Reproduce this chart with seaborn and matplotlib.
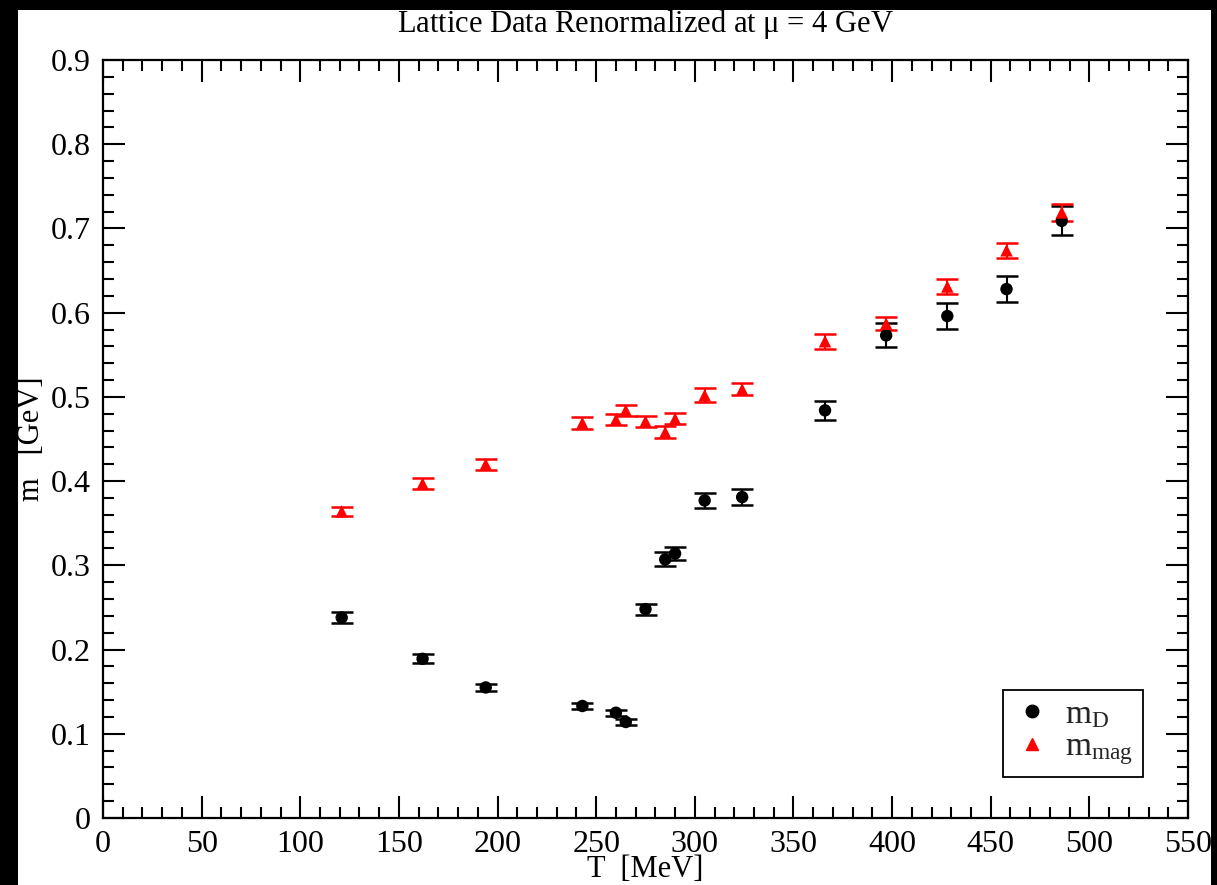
import matplotlib
matplotlib.use("Agg")
import matplotlib.pyplot as plt
from matplotlib.patches import Rectangle
from matplotlib.lines import Line2D
from matplotlib.ticker import MultipleLocator
import numpy as np
import pandas as pd
import seaborn as sns

# Temperatures [MeV]
temperature = [121, 162, 194, 243, 260, 265, 275, 285, 290, 305, 324, 366, 397, 428, 458, 486]

# Debye (electric) screening mass [GeV] and its uncertainty
m_debye = [0.238, 0.189, 0.155, 0.133, 0.125, 0.114, 0.248, 0.307, 0.314, 0.377, 0.381,
           0.484, 0.573, 0.596, 0.628, 0.709]
m_debye_err = [0.006, 0.0055, 0.0044, 0.0036, 0.0036, 0.0036, 0.0065, 0.0083, 0.0075, 0.0087,
               0.0095, 0.0115, 0.0142, 0.0154, 0.0158, 0.0172]

# Magnetic screening mass [GeV] and its uncertainty
m_magnetic = [0.364, 0.397, 0.420, 0.469, 0.473, 0.484, 0.471, 0.458, 0.474, 0.502, 0.509,
              0.566, 0.587, 0.631, 0.674, 0.719]
m_magnetic_err = [0.0057, 0.0063, 0.0063, 0.0067, 0.0061, 0.0069, 0.0065, 0.0071, 0.0067, 0.0081,
                  0.0073, 0.0089, 0.0077, 0.0089, 0.0093, 0.0105]

series_names = ["m_D", "m_mag"]
series_labels = [r"m$_{\mathrm{D}}$", r"m$_{\mathrm{mag}}$"]
series_colors = ["black", "red"]
series_markers = ["o", "^"]

df = pd.DataFrame({
    "T": temperature * 2,
    "m": m_debye + m_magnetic,
    "err": m_debye_err + m_magnetic_err,
    "series": [series_names[0]] * len(temperature) + [series_names[1]] * len(temperature),
})

sns.set_theme(style="ticks")
plt.rcParams["font.family"] = ["Liberation Serif", "DejaVu Serif"]
plt.rcParams["mathtext.fontset"] = "custom"
plt.rcParams["mathtext.rm"] = "Liberation Serif"
plt.rcParams["mathtext.it"] = "Liberation Serif:italic"

W, H = 1217, 885
fig = plt.figure(figsize=(W / 100, H / 100), dpi=100, facecolor="black")
fig.patches.append(Rectangle((18 / W, 0), (1211 - 18) / W, (H - 10) / H,
                             transform=fig.transFigure, facecolor="white",
                             edgecolor="none", zorder=-10))

ax = fig.add_axes([103 / W, 1 - 818 / H, (1188 - 103) / W, (818 - 60) / H])
ax.set_facecolor("white")

for name, color in zip(series_names, series_colors):
    sub = df[df["series"] == name]
    ax.errorbar(sub["T"], sub["m"], yerr=sub["err"], fmt="none", ecolor=color,
                elinewidth=1.5, capsize=8, capthick=1.8, zorder=2)

sns.scatterplot(data=df, x="T", y="m", hue="series", style="series",
                palette=dict(zip(series_names, series_colors)),
                markers=dict(zip(series_names, series_markers)),
                s=80, edgecolor="none", linewidth=0, legend=False, ax=ax, zorder=3)

ax.set_xlim(0, 550)
ax.set_ylim(0, 0.9)
ax.xaxis.set_major_locator(MultipleLocator(50))
ax.xaxis.set_minor_locator(MultipleLocator(10))
ax.yaxis.set_minor_locator(MultipleLocator(0.02))
ax.set_yticks(np.arange(0, 0.91, 0.1))
ax.set_yticklabels(["0"] + [f"{v:.1f}" for v in np.arange(0.1, 0.91, 0.1)])

ax.tick_params(which="both", direction="in", top=True, right=True, color="black",
               labelsize=23, labelcolor="black")
ax.tick_params(which="major", length=16, width=1.5, pad=9)
ax.tick_params(which="minor", length=8, width=1.5)
for sp in ax.spines.values():
    sp.set_visible(True)
    sp.set_color("black")
    sp.set_linewidth(1.6)

ax.set_xlabel("T  [MeV]", fontsize=22, color="black", labelpad=-3)
ax.set_ylabel("m   [GeV]", fontsize=22, color="black", labelpad=3)
ax.set_title(r"Lattice Data Renormalized at $\mathrm{\mu}$ = 4 GeV", fontsize=22,
             color="black", pad=20)

handles = [Line2D([], [], linestyle="none", marker=mk, color=c, markersize=9)
           for mk, c in zip(series_markers, series_colors)]
leg = ax.legend(handles, series_labels, loc="lower right",
                bbox_to_anchor=(0.9585, 0.054), borderaxespad=0, fontsize=24,
                frameon=True, fancybox=False, handlelength=1.1, handletextpad=0.45,
                borderpad=0.3, labelspacing=0.05)
leg.get_frame().set_edgecolor("black")
leg.get_frame().set_linewidth(1.3)
leg.get_frame().set_alpha(1)

fig.savefig("out.png", dpi=100, facecolor=fig.get_facecolor())
